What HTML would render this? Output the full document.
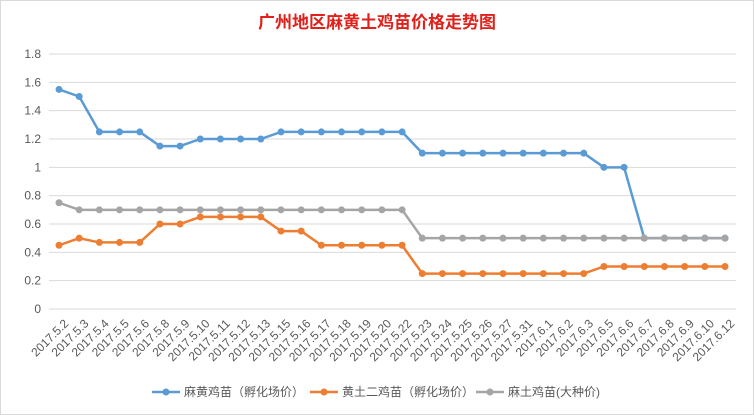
<!DOCTYPE html>
<html><head><meta charset="utf-8"><style>
html,body{margin:0;padding:0;background:#fff;}
svg{display:block;font-family:"Liberation Sans","Noto Sans CJK SC",sans-serif;}
</style></head><body>
<svg id="chart" width="754" height="415">
<rect x="0.5" y="0.5" width="753" height="414" fill="#fff" stroke="#d9d9d9"/>
<text x="377" y="28" text-anchor="middle" font-size="17" font-weight="bold" fill="#e0201a" font-family="'Liberation Sans','Noto Sans CJK SC',sans-serif">广州地区麻黄土鸡苗价格走势图</text>
<g id="grid"></g><g id="xlabels"></g><g id="series"></g>
<g font-size="12" fill="#595959">
<g><line x1="152" y1="392" x2="180" y2="392" stroke="#5b9bd5" stroke-width="2.5"/><circle cx="166" cy="392" r="3.5" fill="#5b9bd5"/><text x="184" y="396">麻黄鸡苗（孵化场价）</text></g>
<g><line x1="310" y1="392" x2="338" y2="392" stroke="#ed7d31" stroke-width="2.5"/><circle cx="324" cy="392" r="3.5" fill="#ed7d31"/><text x="342" y="396">黄土二鸡苗（孵化场价）</text></g>
<g><line x1="476" y1="392" x2="504" y2="392" stroke="#a5a5a5" stroke-width="2.5"/><circle cx="490" cy="392" r="3.5" fill="#a5a5a5"/><text x="508" y="396">麻土鸡苗(大种价)</text></g>
</g>
</svg>
<script>
const categories=["2017.5.2","2017.5.3","2017.5.4","2017.5.5","2017.5.6","2017.5.8","2017.5.9","2017.5.10","2017.5.11","2017.5.12","2017.5.13","2017.5.15","2017.5.16","2017.5.17","2017.5.18","2017.5.19","2017.5.20","2017.5.22","2017.5.23","2017.5.24","2017.5.25","2017.5.26","2017.5.27","2017.5.31","2017.6.1","2017.6.2","2017.6.3","2017.6.5","2017.6.6","2017.6.7","2017.6.8","2017.6.9","2017.6.10","2017.6.12"];
const mahuang=[1.55,1.5,1.25,1.25,1.25,1.15,1.15,1.2,1.2,1.2,1.2,1.25,1.25,1.25,1.25,1.25,1.25,1.25,1.1,1.1,1.1,1.1,1.1,1.1,1.1,1.1,1.1,1.0,1.0,0.5,0.5,0.5,0.5,0.5];
const huangtu=[0.45,0.5,0.47,0.47,0.47,0.6,0.6,0.65,0.65,0.65,0.65,0.55,0.55,0.45,0.45,0.45,0.45,0.45,0.25,0.25,0.25,0.25,0.25,0.25,0.25,0.25,0.25,0.3,0.3,0.3,0.3,0.3,0.3,0.3];
const matu=[0.75,0.7,0.7,0.7,0.7,0.7,0.7,0.7,0.7,0.7,0.7,0.7,0.7,0.7,0.7,0.7,0.7,0.7,0.5,0.5,0.5,0.5,0.5,0.5,0.5,0.5,0.5,0.5,0.5,0.5,0.5,0.5,0.5,0.5];
const yTicks=["0","0.2","0.4","0.6","0.8","1","1.2","1.4","1.6","1.8"];
const NS="http://www.w3.org/2000/svg";
const X0=59,X1=725,Y0=309,Y1=54,YMAX=1.8;
function xs(i){return X0+i*(X1-X0)/(categories.length-1);}
function ys(v){return Y0-(v/YMAX)*(Y0-Y1);}
function mk(t,a,p){const e=document.createElementNS(NS,t);for(const k in a)e.setAttribute(k,a[k]);p.appendChild(e);return e;}
const grid=document.getElementById('grid');
yTicks.forEach(t=>{const v=parseFloat(t);const y=ys(v);
 const l=mk('line',{x1:49,x2:736,y1:y,y2:y,stroke:'#d9d9d9','stroke-width':1},grid);
 
 
 const tx=mk('text',{x:41,y:y+4,'text-anchor':'end','font-size':12,fill:'#595959'},grid);tx.textContent=t;
 
 
});
const xl=document.getElementById('xlabels');
categories.forEach((c,i)=>{const x=xs(i)+4,y=318;
 const t=mk('text',{x:x,y:y,'text-anchor':'end','font-size':12,fill:'#595959',transform:`rotate(-45 ${x} ${y})`,'dominant-baseline':'hanging'},xl);t.textContent=c;
 
 
});
const sg=document.getElementById('series');
[[mahuang,'#5b9bd5','series-mahuang'],[huangtu,'#ed7d31','series-huangtu'],[matu,'#a5a5a5','series-matu']].forEach(([d,c,n])=>{
 const g=mk('g',{},sg);
 
 
 const p=mk('polyline',{points:d.map((v,i)=>xs(i)+','+ys(v)).join(' '),fill:'none',stroke:c,'stroke-width':2.5,'stroke-linejoin':'round'},g);
 
 
 d.forEach((v,i)=>{const m=mk('circle',{cx:xs(i),cy:ys(v),r:3.5,fill:c},g);
  
  });
});
</script>
</body></html>
